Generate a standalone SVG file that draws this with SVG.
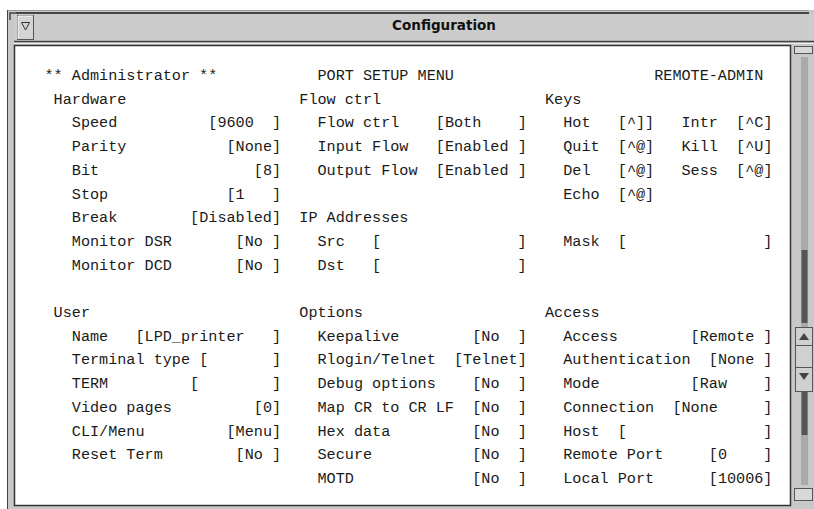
<svg xmlns="http://www.w3.org/2000/svg" width="814" height="509" viewBox="0 0 814 509">
<style>
.t{font-family:"Liberation Mono","DejaVu Sans Mono",monospace;font-size:15.17px;fill:#1a1a1a;white-space:pre}
.title{font-family:"DejaVu Sans","Liberation Sans",sans-serif;font-weight:900;font-size:13.5px;fill:#111}
</style>
<rect x="0" y="0" width="814" height="509" fill="#ffffff"/>
<g id="window-frame">
<rect x="7" y="10" width="807" height="499" fill="#c8c8c8"/>
<line x1="7" y1="10.5" x2="809" y2="10.5" stroke="#9a9a9a" stroke-width="1"/>
<line x1="16" y1="13" x2="809" y2="13" stroke="#444" stroke-width="2"/>
<line x1="7.5" y1="10" x2="7.5" y2="509" stroke="#444" stroke-width="1"/>
<path d="M10 20 V13 H16" fill="none" stroke="#444" stroke-width="1.5"/>
<rect x="14" y="14" width="800" height="27" fill="#cccccc"/>
<line x1="14" y1="41.5" x2="814" y2="41.5" stroke="#444" stroke-width="1.5"/>
<line x1="14" y1="43.5" x2="814" y2="43.5" stroke="#f0f0f0" stroke-width="1"/>
</g>
<g id="menu-button">
<rect x="17.5" y="15.5" width="16" height="24" fill="#d4d4d4" stroke="#555" stroke-width="1"/>
<line x1="18" y1="16" x2="33" y2="16" stroke="#fff"/>
<line x1="18" y1="16" x2="18" y2="39" stroke="#fff"/>
<path d="M21.5 22.5 H29.5 L25.5 30 Z" fill="none" stroke="#333" stroke-width="1"/>
</g>
<text class="title" x="444" y="30" text-anchor="middle">Configuration</text>
<g id="content">
<rect x="14.5" y="45.5" width="776" height="460" fill="#ffffff" stroke="#333" stroke-width="1.5"/>
</g>
<g id="scrollbar">
<rect x="794.5" y="46.5" width="18" height="7" fill="#d8d8d8" stroke="#555" stroke-width="1"/>
<rect x="801" y="57" width="7" height="428" fill="#aaaaaa"/>
<rect x="801.5" y="250" width="6" height="73" fill="#555555"/>
<rect x="801.5" y="392" width="6" height="43" fill="#555555"/>
<rect x="795.5" y="327.5" width="17" height="18" fill="#d0d0d0" stroke="#555" stroke-width="1"/>
<rect x="795.5" y="345.5" width="17" height="22" fill="#d0d0d0" stroke="#555" stroke-width="1"/>
<rect x="795.5" y="367.5" width="17" height="24" fill="#d0d0d0" stroke="#555" stroke-width="1"/>
<path d="M799 340 L804 333 L809 340 Z" fill="#444"/>
<path d="M799 373 L804 380 L809 373 Z" fill="#444"/>
<rect x="794.5" y="488.5" width="18" height="12" fill="#d8d8d8" stroke="#555" stroke-width="1"/>
</g>
<g id="header" xml:space="preserve">
<text class="t" x="44.5" y="80">** Administrator **</text>
<text class="t" x="317.5" y="80">PORT SETUP MENU</text>
<text class="t" x="654.2" y="80">REMOTE-ADMIN</text>
</g>
<g id="hardware" xml:space="preserve">
<text class="t" x="53.6" y="103.7">Hardware</text>
<text class="t" x="71.8" y="127.4">Speed</text><text class="t" x="208.3" y="127.4">[9600  ]</text>
<text class="t" x="71.8" y="151.1">Parity</text><text class="t" x="226.5" y="151.1">[None]</text>
<text class="t" x="71.8" y="174.8">Bit</text><text class="t" x="253.8" y="174.8">[8]</text>
<text class="t" x="71.8" y="198.5">Stop</text><text class="t" x="226.5" y="198.5">[1   ]</text>
<text class="t" x="71.8" y="222.2">Break</text><text class="t" x="190.1" y="222.2">[Disabled]</text>
<text class="t" x="71.8" y="245.9">Monitor DSR</text><text class="t" x="235.6" y="245.9">[No ]</text>
<text class="t" x="71.8" y="269.6">Monitor DCD</text><text class="t" x="235.6" y="269.6">[No ]</text>
</g>
<g id="flow-ctrl" xml:space="preserve">
<text class="t" x="299.3" y="103.7">Flow ctrl</text>
<text class="t" x="317.5" y="127.4">Flow ctrl</text><text class="t" x="435.8" y="127.4">[Both    ]</text>
<text class="t" x="317.5" y="151.1">Input Flow</text><text class="t" x="435.8" y="151.1">[Enabled ]</text>
<text class="t" x="317.5" y="174.8">Output Flow</text><text class="t" x="435.8" y="174.8">[Enabled ]</text>
</g>
<g id="ip-addresses" xml:space="preserve">
<text class="t" x="299.3" y="222.2">IP Addresses</text>
<text class="t" x="317.5" y="245.9">Src</text><text class="t" x="372.1" y="245.9">[               ]</text>
<text class="t" x="317.5" y="269.6">Dst</text><text class="t" x="372.1" y="269.6">[               ]</text>
</g>
<g id="keys" xml:space="preserve">
<text class="t" x="545" y="103.7">Keys</text>
<text class="t" x="563.2" y="127.4">Hot</text><text class="t" x="617.8" y="127.4">[^]]</text><text class="t" x="681.5" y="127.4">Intr</text><text class="t" x="736.1" y="127.4">[^C]</text>
<text class="t" x="563.2" y="151.1">Quit</text><text class="t" x="617.8" y="151.1">[^@]</text><text class="t" x="681.5" y="151.1">Kill</text><text class="t" x="736.1" y="151.1">[^U]</text>
<text class="t" x="563.2" y="174.8">Del</text><text class="t" x="617.8" y="174.8">[^@]</text><text class="t" x="681.5" y="174.8">Sess</text><text class="t" x="736.1" y="174.8">[^@]</text>
<text class="t" x="563.2" y="198.5">Echo</text><text class="t" x="617.8" y="198.5">[^@]</text>
<text class="t" x="563.2" y="245.9">Mask</text><text class="t" x="617.8" y="245.9">[               ]</text>
</g>
<g id="user" xml:space="preserve">
<text class="t" x="53.6" y="317">User</text>
<text class="t" x="71.8" y="340.7">Name</text><text class="t" x="135.5" y="340.7">[LPD_printer   ]</text>
<text class="t" x="71.8" y="364.4">Terminal type</text><text class="t" x="199.2" y="364.4">[       ]</text>
<text class="t" x="71.8" y="388.1">TERM</text><text class="t" x="190.1" y="388.1">[        ]</text>
<text class="t" x="71.8" y="411.8">Video pages</text><text class="t" x="253.8" y="411.8">[0]</text>
<text class="t" x="71.8" y="435.5">CLI/Menu</text><text class="t" x="226.5" y="435.5">[Menu]</text>
<text class="t" x="71.8" y="459.2">Reset Term</text><text class="t" x="235.6" y="459.2">[No ]</text>
</g>
<g id="options" xml:space="preserve">
<text class="t" x="299.3" y="317">Options</text>
<text class="t" x="317.5" y="340.7">Keepalive</text><text class="t" x="472.2" y="340.7">[No  ]</text>
<text class="t" x="317.5" y="364.4">Rlogin/Telnet</text><text class="t" x="454" y="364.4">[Telnet]</text>
<text class="t" x="317.5" y="388.1">Debug options</text><text class="t" x="472.2" y="388.1">[No  ]</text>
<text class="t" x="317.5" y="411.8">Map CR to CR LF</text><text class="t" x="472.2" y="411.8">[No  ]</text>
<text class="t" x="317.5" y="435.5">Hex data</text><text class="t" x="472.2" y="435.5">[No  ]</text>
<text class="t" x="317.5" y="459.2">Secure</text><text class="t" x="472.2" y="459.2">[No  ]</text>
<text class="t" x="317.5" y="482.9">MOTD</text><text class="t" x="472.2" y="482.9">[No  ]</text>
</g>
<g id="access" xml:space="preserve">
<text class="t" x="545" y="317">Access</text>
<text class="t" x="563.2" y="340.7">Access</text><text class="t" x="690.6" y="340.7">[Remote ]</text>
<text class="t" x="563.2" y="364.4">Authentication</text><text class="t" x="708.8" y="364.4">[None ]</text>
<text class="t" x="563.2" y="388.1">Mode</text><text class="t" x="690.6" y="388.1">[Raw    ]</text>
<text class="t" x="563.2" y="411.8">Connection</text><text class="t" x="672.4" y="411.8">[None     ]</text>
<text class="t" x="563.2" y="435.5">Host</text><text class="t" x="617.8" y="435.5">[               ]</text>
<text class="t" x="563.2" y="459.2">Remote Port</text><text class="t" x="708.8" y="459.2">[0    ]</text>
<text class="t" x="563.2" y="482.9">Local Port</text><text class="t" x="708.8" y="482.9">[10006]</text>
</g>
</svg>
